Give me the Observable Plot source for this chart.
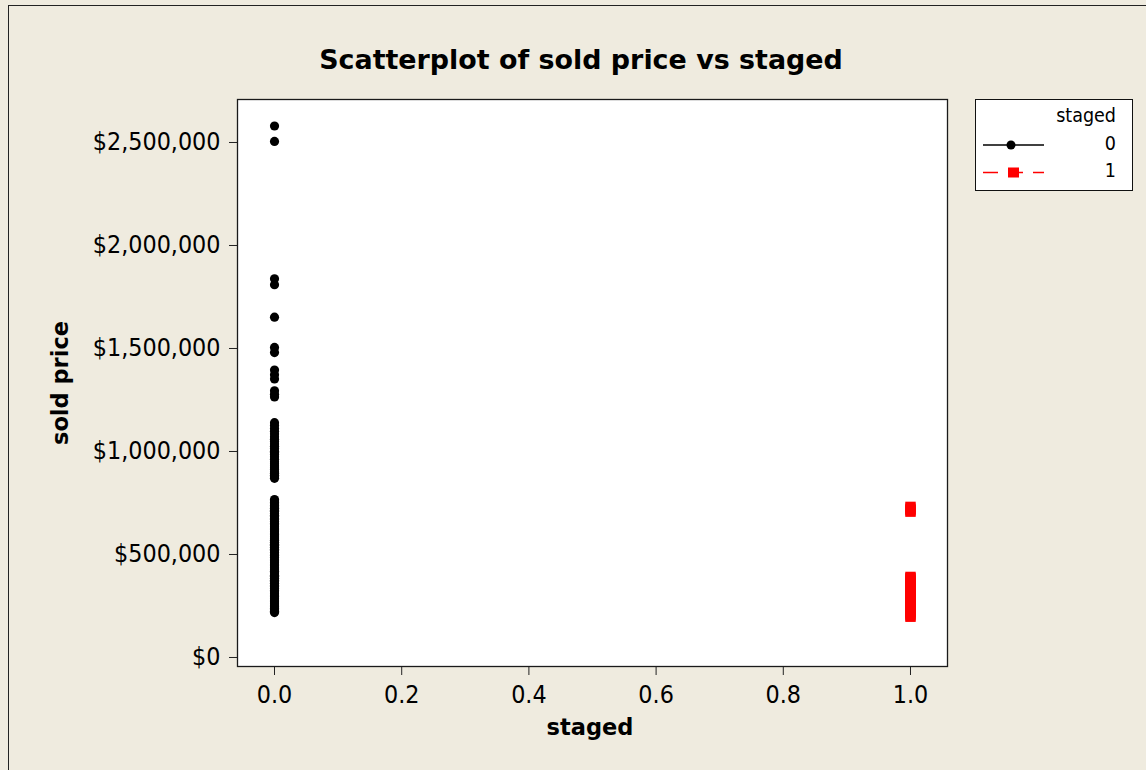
<!DOCTYPE html>
<html>
<head>
<meta charset="utf-8">
<script src="https://cdn.jsdelivr.net/npm/d3@7"></script>
<script src="https://cdn.jsdelivr.net/npm/@observablehq/plot@0.6"></script>
<style>
  html, body { margin: 0; padding: 0; background: #efebdf; }
  body { width: 1146px; height: 770px; position: relative; overflow: hidden; }
  #outer { position: absolute; left: 8px; top: 5px; width: 2000px; height: 2000px;
           border-left: 1.5px solid #222; border-top: 1.5px solid #222; box-sizing: border-box; }
  #chart { position: absolute; left: 0; top: 0; }
  .lbl { position: absolute; font-family: "DejaVu Sans", sans-serif; font-weight: bold;
         line-height: 1; white-space: nowrap; color: #000; }
  #title { left: 581px; top: 47px; font-size: 26.9px; transform: translateX(-50%); }
  #xlab { left: 590px; top: 727px; font-size: 22.5px; transform: translate(-50%, -50%); }
  #ylab { left: 60px; top: 383px; font-size: 22.5px; transform: translate(-50%, -50%) rotate(-90deg); }
  #legend { position: absolute; left: 975px; top: 99px; }
</style>
</head>
<body>
<div id="outer"></div>
<div id="chart"></div>
<div class="lbl" id="title">Scatterplot of sold price vs staged</div>
<div class="lbl" id="xlab">staged</div>
<div class="lbl" id="ylab">sold price</div>
<div id="legend"></div>
<script>
// ---- data ----
const stagedGroups = ["0", "1"];
const groupColors = ["black", "red"];
const legendTitle = "staged";

const soldPriceStaged0 = [
  2580000, 2505000, 1838000, 1810000, 1652000, 1505000, 1480000, 1395000, 1372000, 1352000,
  1295000, 1278000, 1265000,
  1140000, 1126000, 1112000, 1098000, 1085000, 1071000, 1060000, 1049000, 1036000, 1025000,
  1015000, 1001000, 995000, 985000, 975000, 962000, 950000, 941000, 930000, 920000, 912000,
  900000, 895000, 885000, 878000, 870000,
  767000, 760000, 752000, 745000, 738000, 730000, 725000, 715000, 710000, 699000, 690000,
  685000, 675000, 670000, 660000, 650000, 645000, 635000, 625000, 619000, 610000, 599000,
  595000, 585000, 575000, 569000, 560000, 550000, 545000, 535000, 525000, 519000, 510000,
  499000, 495000, 485000, 475000, 469000, 460000, 450000, 445000, 435000, 425000, 419000,
  410000, 399000, 395000, 385000, 375000, 369000, 360000, 350000, 345000, 335000, 325000,
  319000, 310000, 299000, 295000, 285000, 275000, 269000, 260000, 250000, 245000, 238000,
  230000, 225000, 218000
];
const soldPriceStaged1 = [
  731000, 722000, 715000, 708000,
  391000, 385000, 378000, 370000, 360000, 352000, 345000, 335000, 325000, 318000, 310000,
  299000, 290000, 282000, 275000, 265000, 259000, 250000, 241000, 230000, 222000, 214000,
  205000, 198000
];

const xTicks = [0, 0.2, 0.4, 0.6, 0.8, 1.0];
const yTicks = [0, 500000, 1000000, 1500000, 2000000, 2500000];

// ---- build table ----
const rows0 = soldPriceStaged0.map(p => ({staged: 0, price: p}));
const rows1 = soldPriceStaged1.map(p => ({staged: 1, price: p}));

const tickFont = "'DejaVu Sans Condensed', 'Liberation Sans', sans-serif";

const chart = Plot.plot({
  width: 1146,
  height: 770,
  marginLeft: 237,
  marginRight: 199,
  marginTop: 99,
  marginBottom: 104,
  style: {background: "transparent", fontFamily: tickFont, fontSize: "24.8px", color: "#000", overflow: "visible"},
  x: {domain: [-0.0582, 1.0582]},
  y: {domain: [-43700, 2708700]},
  marks: [
    Plot.frame({fill: "white", stroke: null}),
    Plot.axisX({ticks: xTicks, tickFormat: d3.format(".1f"), tickSize: 9, tickPadding: 10, label: null, stroke: "#222"}),
    Plot.axisY({ticks: yTicks, tickFormat: d => "$" + d3.format(",")(d), tickSize: 8, tickPadding: 9, label: null, stroke: "#222"}),
    Plot.dot(rows0, {x: "staged", y: "price", r: 4.6, fill: groupColors[0], stroke: null}),
    Plot.dot(rows1, {x: "staged", y: "price", symbol: "square", r: 5.9, fill: groupColors[1], stroke: null}),
    Plot.frame({stroke: "#1a1a1a", strokeWidth: 1.3, fill: null})
  ]
});
document.getElementById("chart").appendChild(chart);

// ---- legend ----
const lw = 157, lh = 91;
const leg = d3.select("#legend").append("svg").attr("width", lw + 2).attr("height", lh + 2)
  .style("font-family", tickFont).style("overflow", "visible");
leg.append("rect").attr("x", 0.5).attr("y", 0.5).attr("width", lw).attr("height", lh)
  .attr("fill", "white").attr("stroke", "#111").attr("stroke-width", 1);
leg.append("text").attr("x", 141).attr("y", 16).attr("text-anchor", "end")
  .attr("dominant-baseline", "central").attr("font-size", 19.5).text(legendTitle);
const rowY = [46, 73.5];
stagedGroups.forEach((g, i) => {
  const y = rowY[i];
  const line = leg.append("line").attr("x1", 8).attr("x2", 69).attr("y1", y).attr("y2", y)
    .attr("stroke", groupColors[i]).attr("stroke-width", 1.3);
  if (i === 1) line.attr("stroke-dasharray", "15,10");
  if (i === 0) {
    leg.append("circle").attr("cx", 36).attr("cy", y).attr("r", 4.5).attr("fill", groupColors[i]);
  } else {
    leg.append("rect").attr("x", 33).attr("y", y - 5).attr("width", 11).attr("height", 10).attr("fill", groupColors[i]);
  }
  leg.append("text").attr("x", 141).attr("y", y - 2).attr("text-anchor", "end")
    .attr("dominant-baseline", "central").attr("font-size", 19.5).text(g);
});
</script>
</body>
</html>
